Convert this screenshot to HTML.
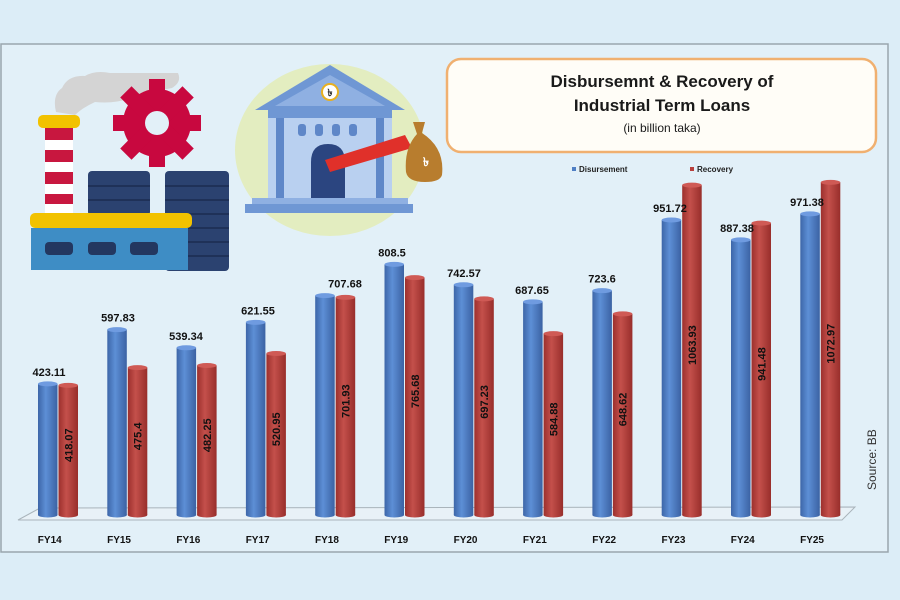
<!DOCTYPE html>
<html><head><meta charset="utf-8"><style>
html,body{margin:0;padding:0;background:#dcedf7;}
svg{display:block;font-family:"Liberation Sans",sans-serif;}
</style></head><body>
<svg width="900" height="600" viewBox="0 0 900 600">
<defs>
<linearGradient id="gb" x1="0" x2="1"><stop offset="0" stop-color="#3d66a8"/><stop offset="0.4" stop-color="#5d8fd6"/><stop offset="1" stop-color="#3b62a3"/></linearGradient>
<linearGradient id="gr" x1="0" x2="1"><stop offset="0" stop-color="#9c302d"/><stop offset="0.4" stop-color="#c4504b"/><stop offset="1" stop-color="#982e2b"/></linearGradient>
</defs>
<rect width="900" height="600" fill="#dcedf7"/>
<rect x="1" y="44" width="887" height="508" fill="#e2f0f8" stroke="#9aa6ad" stroke-width="1.5"/>
<!-- factory -->
<path d="M56 112 Q52 95 62 88 Q68 75 85 76 Q95 70 110 73 L178 73 Q182 82 172 88 Q150 92 130 98 Q115 104 95 102 Q82 108 75 115 Z" fill="#d4d4d4"/>
<rect x="45" y="128" width="28" height="85" fill="#fff"/>
<g fill="#c8173f"><rect x="45" y="128" width="28" height="12"/><rect x="45" y="150" width="28" height="12"/><rect x="45" y="172" width="28" height="12"/><rect x="45" y="194" width="28" height="10"/></g>
<rect x="38" y="115" width="42" height="13" rx="5" fill="#f2c200"/>
<circle cx="157" cy="123" r="34" fill="#c8083f"/>
<g fill="#c8083f"><rect x="149" y="79" width="16" height="88"/><rect x="113" y="115" width="88" height="16"/><rect x="149" y="79" width="16" height="88" transform="rotate(45 157 123)"/><rect x="149" y="79" width="16" height="88" transform="rotate(-45 157 123)"/></g>
<circle cx="157" cy="123" r="12" fill="#e2f0f8"/>
<rect x="88" y="171" width="62" height="45" rx="4" fill="#2b4270"/>
<rect x="165" y="171" width="64" height="100" rx="4" fill="#2b4270"/>
<g stroke="#1f3158" stroke-width="2"><line x1="88" y1="186" x2="150" y2="186"/><line x1="88" y1="200" x2="150" y2="200"/><line x1="165" y1="186" x2="229" y2="186"/><line x1="165" y1="200" x2="229" y2="200"/><line x1="165" y1="214" x2="229" y2="214"/><line x1="165" y1="228" x2="229" y2="228"/><line x1="165" y1="242" x2="229" y2="242"/><line x1="165" y1="256" x2="229" y2="256"/></g>
<rect x="31" y="228" width="157" height="42" fill="#3e8dc5"/>
<rect x="30" y="213" width="162" height="15" rx="5" fill="#f2c200"/>
<g fill="#233760"><rect x="45" y="242" width="28" height="13" rx="4"/><rect x="88" y="242" width="28" height="13" rx="4"/><rect x="130" y="242" width="28" height="13" rx="4"/></g>
<!-- bank -->
<ellipse cx="330" cy="150" rx="95" ry="86" fill="#e3edc0"/>
<polygon points="330,65 255,110 405,110" fill="#6f97d4"/>
<polygon points="330,75 275,106 385,106" fill="#8fb0e2"/>
<circle cx="330" cy="92" r="8" fill="#fff" stroke="#e8b020" stroke-width="2"/>
<text x="330" y="96" font-size="10" font-weight="bold" text-anchor="middle" fill="#222">৳</text>
<rect x="268" y="110" width="124" height="88" fill="#b9d0f0"/>
<rect x="268" y="110" width="124" height="8" fill="#6f97d4"/>
<g fill="#5f87c8"><rect x="276" y="118" width="8" height="80"/><rect x="376" y="118" width="8" height="80"/><rect x="298" y="124" width="8" height="12" rx="3"/><rect x="315" y="124" width="8" height="12" rx="3"/><rect x="332" y="124" width="8" height="12" rx="3"/><rect x="349" y="124" width="8" height="12" rx="3"/></g>
<path d="M311 198 L311 162 Q311 144 328 144 Q345 144 345 162 L345 198 Z" fill="#2b4580"/>
<rect x="252" y="198" width="156" height="6" fill="#8fb0e2"/>
<rect x="245" y="204" width="168" height="9" fill="#6f97d4"/>
<path d="M325 160 L405 135 L412 148 L330 172 Z" fill="#e0302a"/>
<path d="M413 122 L425 122 L422 133 Q445 148 442 175 Q440 182 425 182 Q408 182 406 172 Q404 148 417 134 Z" fill="#b87d2e"/>
<text x="426" y="166" font-size="12" font-weight="bold" text-anchor="middle" fill="#fff">৳</text>
<!-- title box -->
<rect x="447" y="59" width="429" height="93" rx="14" fill="#fffdf7" stroke="#f0b070" stroke-width="2.5"/>
<text x="662" y="87" font-size="17" font-weight="bold" text-anchor="middle" fill="#1a1a1a">Disbursemnt &amp; Recovery of</text>
<text x="662" y="111" font-size="17" font-weight="bold" text-anchor="middle" fill="#1a1a1a">Industrial Term Loans</text>
<text x="662" y="132" font-size="12" text-anchor="middle" fill="#1a1a1a">(in billion taka)</text>
<!-- legend -->
<rect x="572" y="167" width="4" height="4" fill="#4f7fc4"/>
<text x="579" y="172" font-size="8" font-weight="bold" fill="#222">Disursement</text>
<rect x="690" y="167" width="4" height="4" fill="#b8403c"/>
<text x="697" y="172" font-size="8" font-weight="bold" fill="#222">Recovery</text>
<!-- floor -->
<polygon points="40,508 855,507 842,520 18,520" fill="#e8f1f7" stroke="#a9b4bb" stroke-width="1"/>
<g id="bars"></g>
<text transform="translate(876,490) rotate(-90)" font-size="12" fill="#333">Source: BB</text>
</svg>
<script>
var d=[["FY14",423.11,418.07,49],["FY15",597.83,475.4,118],["FY16",539.34,482.25,186],["FY17",621.55,520.95,258],["FY18",707.68,701.93,345],["FY19",808.5,765.68,392],["FY20",742.57,697.23,464],["FY21",687.65,584.88,532],["FY22",723.6,648.62,602],["FY23",951.72,1063.93,670],["FY24",887.38,941.48,737],["FY25",971.38,1072.97,807]];
var g=document.getElementById("bars"),s="",B=515;
d.forEach(function(r,i){var x=38+i*69.3,w=19.5;
function bar(x,v,f,c){var t=B-v*0.31;return '<rect x="'+x+'" y="'+t+'" width="'+w+'" height="'+(B-t)+'" fill="url(#'+f+')"/><ellipse cx="'+(x+w/2)+'" cy="'+t+'" rx="'+(w/2)+'" ry="2.5" fill="'+c+'"/><ellipse cx="'+(x+w/2)+'" cy="'+B+'" rx="'+(w/2)+'" ry="2.5" fill="url(#'+f+')"/>';}
s+=bar(x,r[1],"gb","#6f9be0");s+=bar(x+w+1,r[2],"gr","#cf5a55");
var bt=B-r[1]*0.31;
s+='<text x="'+r[3]+'" y="'+(bt-8)+'" font-size="11" font-weight="bold" text-anchor="middle" fill="#111">'+r[1]+'</text>';
var rt=B-r[2]*0.31,cy=(rt+B)/2-5,cx=x+w+1+w/2+4;
s+='<text transform="translate('+cx+','+cy+') rotate(-90)" font-size="11" font-weight="bold" text-anchor="middle" fill="#111">'+r[2]+'</text>';
s+='<text x="'+(x+w/2+2)+'" y="543" font-size="10" font-weight="bold" text-anchor="middle" fill="#111">'+r[0]+'</text>';
});
g.innerHTML=s;
</script>
</body></html>
